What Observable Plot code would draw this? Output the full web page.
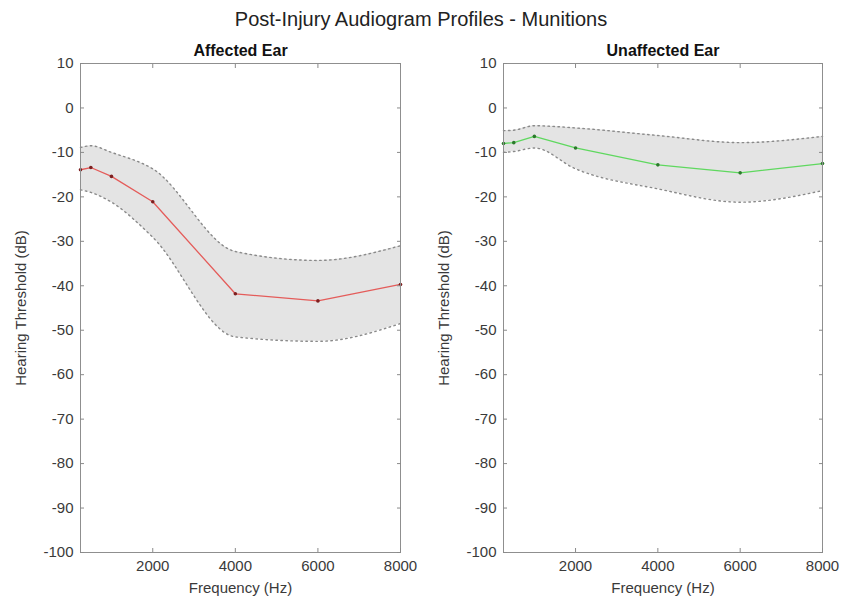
<!DOCTYPE html>
<html>
<head>
<meta charset="utf-8">
<script src="https://cdn.jsdelivr.net/npm/d3@7"></script>
<script src="https://cdn.jsdelivr.net/npm/@observablehq/plot@0.6"></script>
<style>
  body { margin: 0; background: #fff; font-family: "Liberation Sans", Arial, sans-serif; }
  #title { width: 842px; height: 32px; box-sizing: border-box; padding-top: 9px; font-size: 20px; line-height: 20px; text-align: center; color: #222; }
  #row { display: flex; width: 842px; }
</style>
</head>
<body>
<div id="title">Post-Injury Audiogram Profiles - Munitions</div>
<div id="row"></div>
<script>
const freqs = [250, 500, 1000, 2000, 4000, 6000, 8000];
const affectedMean  = [-13.9, -13.4, -15.4, -21.1, -41.8, -43.4, -39.7];
const affectedUpper = [-8.9, -8.5, -10.0, -13.7, -32.3, -34.3, -31.0];
const affectedLower = [-18.4, -19.0, -21.2, -29.1, -51.5, -52.5, -48.5];
const unaffectedMean  = [-8.0, -7.8, -6.4, -9.0, -12.8, -14.6, -12.5];
const unaffectedUpper = [-5.1, -5.0, -4.0, -4.5, -6.2, -7.8, -6.4];
const unaffectedLower = [-10.0, -9.8, -9.0, -13.7, -18.2, -21.2, -18.6];
const yTicks = [10, 0, -10, -20, -30, -40, -50, -60, -70, -80, -90, -100];
const xTicks = [2000, 4000, 6000, 8000];
const panels = [
  {title: "Affected Ear", mean: affectedMean, upper: affectedUpper, lower: affectedLower, line: "#e45c5a", dot: "#7d1f1f", ml: 80, mr: 21},
  {title: "Unaffected Ear", mean: unaffectedMean, upper: unaffectedUpper, lower: unaffectedLower, line: "#5fd85f", dot: "#2b7a2b", ml: 82, mr: 20}
];
const textColor = "#3a3a3a";
const tickColor = "#8a8a8a";

for (const p of panels) {
  const data = freqs.map((f, i) => ({f, mean: p.mean[i], upper: p.upper[i], lower: p.lower[i]}));
  const chart = Plot.plot({
    width: 421,
    height: 565,
    marginTop: 31,
    marginBottom: 45,
    marginLeft: p.ml,
    marginRight: p.mr,
    style: {fontFamily: "Liberation Sans, Arial, sans-serif", fontSize: "15px", color: textColor, background: "#fff"},
    x: {domain: [250, 8000]},
    y: {domain: [-100, 10]},
    marks: [
      Plot.areaY(data, {x: "f", y1: "lower", y2: "upper", fill: "#e4e4e4", curve: "monotone-x"}),
      Plot.line(data, {x: "f", y: "upper", stroke: "#8a8a8a", strokeWidth: 1.4, strokeDasharray: "1.5,3.5", curve: "monotone-x"}),
      Plot.line(data, {x: "f", y: "lower", stroke: "#8a8a8a", strokeWidth: 1.4, strokeDasharray: "1.5,3.5", curve: "monotone-x"}),
      Plot.line(data, {x: "f", y: "mean", stroke: p.line, strokeWidth: 1.3}),
      Plot.dot(data, {x: "f", y: "mean", r: 1.8, fill: p.dot, stroke: "none"}),
      Plot.frame({stroke: "#8f8f8f", strokeWidth: 1}),
      Plot.axisX(xTicks, {anchor: "bottom", tickSize: -4, fill: "none", stroke: tickColor, label: null}),
      Plot.axisX(xTicks, {anchor: "top", tickSize: -4, fill: "none", stroke: tickColor, label: null}),
      Plot.axisY(yTicks, {anchor: "left", tickSize: -4, fill: "none", stroke: tickColor, label: null}),
      Plot.axisY(yTicks, {anchor: "right", tickSize: -4, fill: "none", stroke: tickColor, label: null}),
      Plot.axisX(xTicks, {anchor: "bottom", tickSize: 0, tickPadding: 8, fill: textColor, fontSize: 15, label: "Frequency (Hz)", labelAnchor: "center", labelArrow: "none", labelOffset: 40, tickFormat: d => String(d)}),
      Plot.axisY(yTicks, {anchor: "left", tickSize: 0, tickPadding: 7, fill: textColor, fontSize: 15, label: "Hearing Threshold (dB)", labelAnchor: "center", labelArrow: "none", labelOffset: 65, tickFormat: d => String(d)}),
      Plot.text([p.title], {frameAnchor: "top", lineAnchor: "middle", dy: -13, fontWeight: "bold", fontSize: 16, fill: "#111"})
    ]
  });
  document.getElementById("row").appendChild(chart);
}
</script>
</body>
</html>
